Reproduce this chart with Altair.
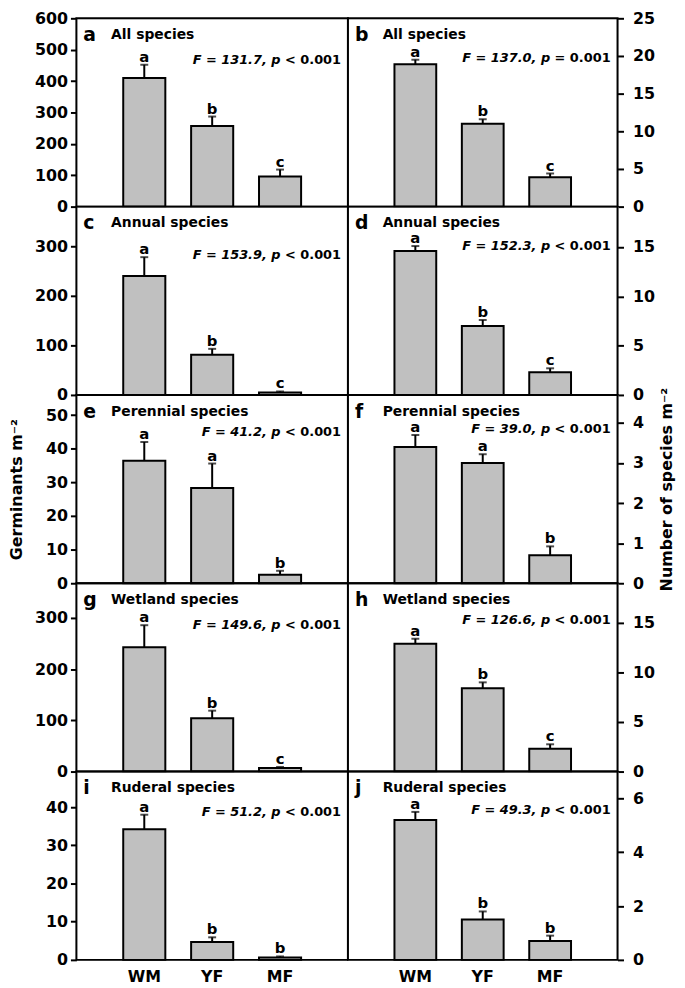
import altair as alt
import pandas as pd

FONT = "DejaVu Sans"

cats = ["WM", "YF", "MF"]

panel_ids = ["a", "b", "c", "d", "e", "f", "g", "h", "i", "j"]
panel_titles = ["All species", "All species", "Annual species", "Annual species",
                "Perennial species", "Perennial species", "Wetland species",
                "Wetland species", "Ruderal species", "Ruderal species"]
f_parts = ["F = 131.7, p", "F = 137.0, p", "F = 153.9, p", "F = 152.3, p",
           "F = 41.2, p", "F = 39.0, p", "F = 149.6, p", "F = 126.6, p",
           "F = 51.2, p", "F = 49.3, p"]
p_parts = ["< 0.001", "= 0.001", "< 0.001", "< 0.001", "< 0.001",
           "< 0.001", "< 0.001", "< 0.001", "< 0.001", "< 0.001"]

means_a = [410, 257, 96];    se_a = [42, 30, 22];    letters_a = ["a", "b", "c"]
means_b = [18.9, 11.0, 3.9]; se_b = [0.6, 0.6, 0.5]; letters_b = ["a", "b", "c"]
means_c = [240, 81, 5];      se_c = [38, 12, 2];     letters_c = ["a", "b", "c"]
means_d = [14.6, 7.0, 2.3];  se_d = [0.5, 0.6, 0.4]; letters_d = ["a", "b", "c"]
means_e = [36.4, 28.3, 2.5]; se_e = [5.6, 7.3, 1.2]; letters_e = ["a", "a", "b"]
means_f = [3.4, 3.0, 0.7];   se_f = [0.3, 0.22, 0.22]; letters_f = ["a", "a", "b"]
means_g = [243, 104, 7];     se_g = [43, 15, 2];     letters_g = ["a", "b", "c"]
means_h = [12.9, 8.4, 2.3];  se_h = [0.5, 0.6, 0.45]; letters_h = ["a", "b", "c"]
means_i = [34.2, 4.7, 0.6];  se_i = [3.8, 1.2, 0.3]; letters_i = ["a", "b", "b"]
means_j = [5.2, 1.5, 0.7];   se_j = [0.3, 0.3, 0.2]; letters_j = ["a", "b", "b"]

all_means = [means_a, means_b, means_c, means_d, means_e, means_f, means_g, means_h, means_i, means_j]
all_se = [se_a, se_b, se_c, se_d, se_e, se_f, se_g, se_h, se_i, se_j]
all_letters = [letters_a, letters_b, letters_c, letters_d, letters_e, letters_f,
               letters_g, letters_h, letters_i, letters_j]

y_max = [600, 25, 380, 19.1, 56, 4.7, 368, 19, 49.3, 7]
y_ticks = [[0, 100, 200, 300, 400, 500, 600], [0, 5, 10, 15, 20, 25],
           [0, 100, 200, 300], [0, 5, 10, 15],
           [0, 10, 20, 30, 40, 50], [0, 1, 2, 3, 4],
           [0, 100, 200, 300], [0, 5, 10, 15],
           [0, 10, 20, 30, 40], [0, 2, 4, 6]]

left_title = "Germinants m\u207b\u00b2"
right_title = "Number of species m\u207b\u00b2"

# layout (pixels): vertical offset of the F statistic inside each panel
f_text_y = [42, 40, 49, 40, 37, 34, 42, 37, 41, 39]

H = 190


def make_panel(k):
    left = (k % 2 == 0)
    bottom = (k >= 8)
    middle = (k in (4, 5))
    W = 274 if left else 272
    means = all_means[k]
    ses = all_se[k]
    df = pd.DataFrame({
        "cat": cats,
        "mean": means,
        "upper": [m + s for m, s in zip(means, ses)],
        "letter": all_letters[k],
    })
    xaxis = alt.Axis(title=None, labels=bottom, ticks=False, domain=False, grid=False,
                     labelFont=FONT, labelFontSize=16, labelFontWeight="bold",
                     labelColor="black", labelPadding=9, labelAngle=0)
    x = alt.X("cat:N", sort=cats, axis=xaxis,
              scale=alt.Scale(paddingInner=0.38, paddingOuter=0.69))
    yaxis_args = dict(orient="left" if left else "right", values=y_ticks[k], grid=False,
                      domain=False, ticks=True, tickColor="black", tickWidth=2, tickSize=6,
                      labelFont=FONT, labelFontSize=16, labelFontWeight="bold",
                      labelColor="black", labelPadding=3 if left else 9,
                      minExtent=42 if left else 36, maxExtent=42 if left else 36)
    if middle:
        if left:
            yaxis_args.update(title=left_title, titlePadding=10)
        else:
            yaxis_args.update(title=right_title, titlePadding=5, titleAngle=270,
                              titleBaseline="top")
        yaxis_args.update(titleFont=FONT, titleFontSize=16, titleFontWeight="bold",
                          titleColor="black")
    else:
        yaxis_args.update(title=None)
    yaxis = alt.Axis(**yaxis_args)
    yscale = alt.Scale(domain=[0, y_max[k]], nice=False, zero=True)

    base = alt.Chart(df)
    bars = base.mark_bar(color="#c0c0c0", stroke="black", strokeWidth=2).encode(
        x=x, y=alt.Y("mean:Q", scale=yscale, axis=yaxis))
    rule = base.mark_rule(color="black", strokeWidth=2).encode(
        x=x, y=alt.Y("mean:Q", scale=yscale, axis=yaxis), y2="upper:Q")
    cap = base.mark_tick(color="black", thickness=2, size=8).encode(
        x=x, y=alt.Y("upper:Q", scale=yscale, axis=yaxis))
    sig = base.mark_text(font=FONT, fontSize=15, fontWeight="bold", color="black",
                         baseline="alphabetic", dy=-3).encode(
        x=x, y=alt.Y("upper:Q", scale=yscale, axis=yaxis), text="letter:N")

    pid = alt.Chart(pd.DataFrame({"t": [panel_ids[k]]})).mark_text(
        font=FONT, fontSize=19, fontWeight="bold", color="black", align="left",
        baseline="middle").encode(x=alt.value(7), y=alt.value(17), text="t:N")
    ptitle = alt.Chart(pd.DataFrame({"t": [panel_titles[k]]})).mark_text(
        font=FONT, fontSize=14, fontWeight="bold", color="black", align="left",
        baseline="middle").encode(x=alt.value(35), y=alt.value(17), text="t:N")
    fit = alt.Chart(pd.DataFrame({"t": [f_parts[k]]})).mark_text(
        font=FONT, fontSize=13, fontWeight="bold", fontStyle="italic", color="black",
        align="right", baseline="middle", dx=-61).encode(
        x=alt.value(W - 7), y=alt.value(f_text_y[k]), text="t:N")
    fpl = alt.Chart(pd.DataFrame({"t": [p_parts[k]]})).mark_text(
        font=FONT, fontSize=13, fontWeight="bold", color="black",
        align="right", baseline="middle").encode(
        x=alt.value(W - 7), y=alt.value(f_text_y[k]), text="t:N")
    frame = alt.Chart(pd.DataFrame({"t": [0]})).mark_rect(
        fillOpacity=0, stroke="black", strokeWidth=2).encode(
        x=alt.value(0), x2=alt.value(W), y=alt.value(0), y2=alt.value(H))

    return alt.layer(bars, rule, cap, sig, pid, ptitle, fit, fpl, frame).properties(
        width=W, height=H)


panels = [make_panel(k) for k in range(10)]

chart = alt.concat(*panels, columns=2, spacing=0, bounds="flush").configure_view(
    strokeWidth=0
).configure(padding={"left": 0, "right": 2, "top": -3, "bottom": 0}, background="white")

chart.save("out.html", embed_options={"renderer": "svg", "actions": False})
